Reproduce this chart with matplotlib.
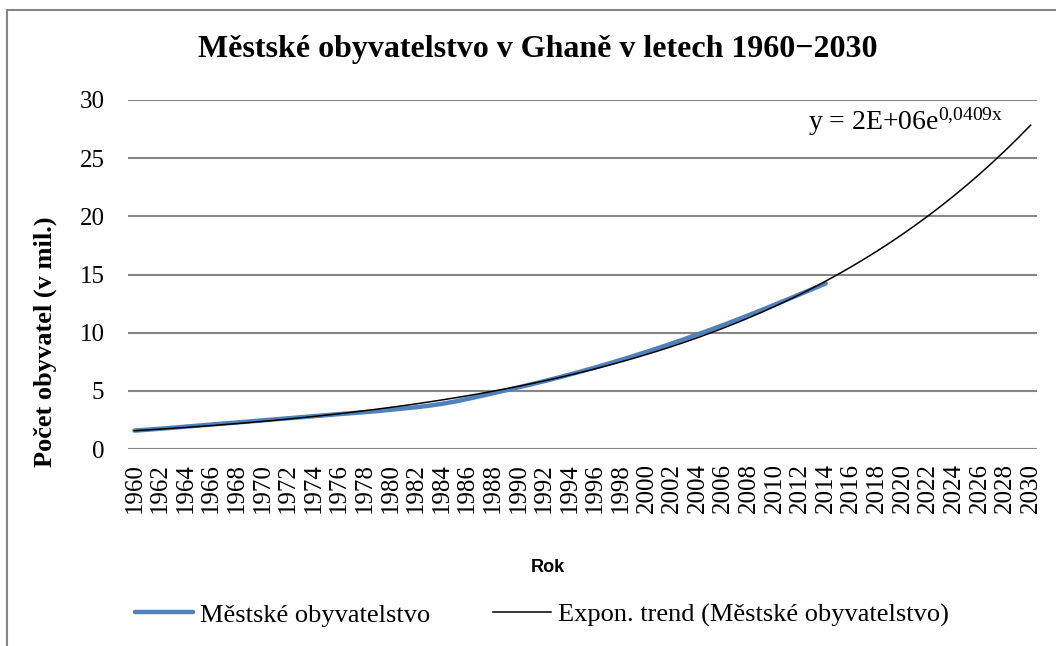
import numpy as np
import matplotlib
matplotlib.use("Agg")
import matplotlib.pyplot as plt
from matplotlib.patches import Rectangle

# urban population of Ghana (millions)
years = list(range(1960, 2031))
data_years = list(range(1960, 2015))
urban = [1.58, 1.66, 1.74, 1.83, 1.92, 2.01, 2.10, 2.19, 2.28, 2.37,
         2.46, 2.55, 2.64, 2.73, 2.82, 2.91, 3.00, 3.08, 3.17, 3.26,
         3.37, 3.48, 3.59, 3.72, 3.88, 4.07, 4.30, 4.54, 4.79, 5.04,
         5.30, 5.56, 5.83, 6.11, 6.40, 6.70, 7.01, 7.33, 7.66, 8.00,
         8.35, 8.71, 9.08, 9.46, 9.85, 10.25, 10.66, 11.08, 11.51, 11.95,
         12.40, 12.85, 13.31, 13.77, 14.24]
tick_years = [str(y) for y in years[::2]]

plt.rcParams['font.family'] = ['Liberation Serif', 'DejaVu Serif']
plt.rcParams['mathtext.fontset'] = 'custom'
plt.rcParams['mathtext.rm'] = 'Liberation Serif'
plt.rcParams['mathtext.it'] = 'Liberation Serif:italic'

fig = plt.figure(figsize=(10.56, 6.46), dpi=100)
ax = fig.add_axes([128 / 1056, 1 - 449 / 646, (1037 - 128) / 1056, 349 / 646])

# outer chart frame
fig.patches.append(Rectangle((7 / 1056, -0.1), 1.2, 1 - 10 / 646 + 0.1,
                             transform=fig.transFigure, fill=False,
                             edgecolor='#868686', linewidth=1.5))

x_all = np.arange(len(years))
x_data = np.arange(len(data_years))

# exponential trend fitted to the data (like Excel)
b, ln_a = np.polyfit(x_data + 1, np.log(urban), 1)
trend = np.exp(ln_a) * np.exp(b * (x_all + 1))

ax.plot(x_data, urban, color='#4F81BD', linewidth=3.2, solid_capstyle='round',
        label='Městské obyvatelstvo')
ax.plot(x_all, trend, color='black', linewidth=1.1,
        label='Expon. trend (Městské obyvatelstvo)')

ax.set_xlim(-0.5, len(years) - 0.5)
ax.set_ylim(0, 30)
ax.set_yticks([0, 5, 10, 15, 20, 25, 30])
ax.set_xticks(x_all[::2])
ax.set_xticklabels(tick_years, rotation=90, fontsize=18)
ax.tick_params(axis='y', labelsize=18, length=0, pad=17)
ax.tick_params(axis='x', length=0, pad=10)
ax.grid(axis='y', color='#868686', linewidth=1.5)
ax.set_axisbelow(True)
for s in ax.spines.values():
    s.set_visible(False)

fig.text(538 / 1056, 1 - 50 / 646, 'Městské obyvatelstvo v Ghaně v letech 1960−2030',
         ha='center', va='center', fontsize=23, fontweight='bold')
fig.text(45 / 1056, 1 - 342 / 646, 'Počet obyvatel (v mil.)', rotation=90,
         ha='center', va='center', fontsize=19, fontweight='bold')
fig.text(548 / 1056, 1 - 567 / 646, 'Rok', ha='center', va='center',
         fontsize=13, fontweight='bold', family='Liberation Sans')
fig.text(808 / 1056, 1 - 122 / 646, r'y = 2E+06e$^{\mathrm{0{,}0409x}}$',
         ha='left', va='center', fontsize=20)

fig.legend(loc='center', bbox_to_anchor=(542 / 1056, 1 - 615 / 646), ncol=2,
           frameon=False, fontsize=19, handlelength=2.2, handletextpad=0.25,
           columnspacing=2.4)

fig.savefig('out.png', dpi=100)
